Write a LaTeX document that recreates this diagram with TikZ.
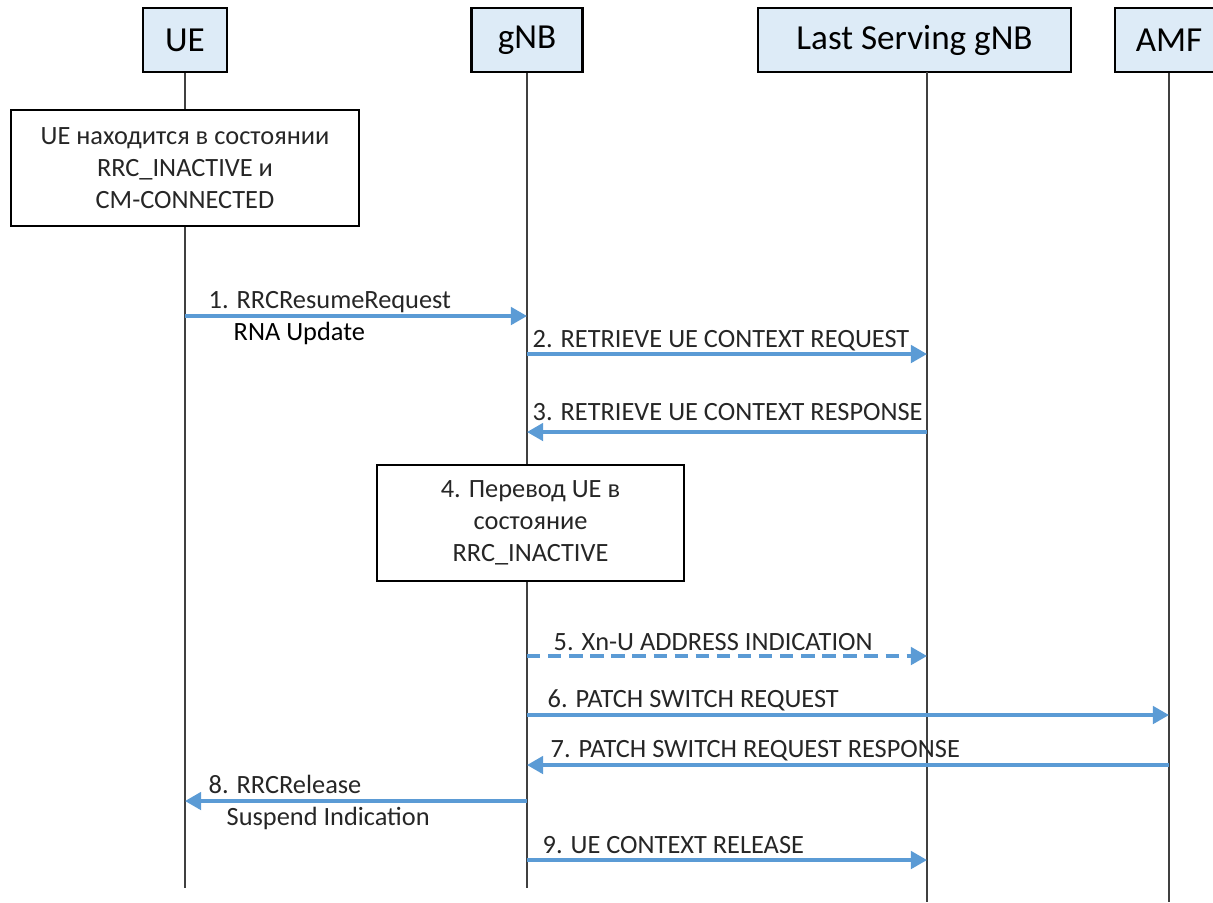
\documentclass[tikz,border=0pt]{standalone}
\usepackage{fontspec}
\setmainfont{Carlito}
\usetikzlibrary{arrows.meta}
\definecolor{sq_blue}{RGB}{221, 235, 247}
\definecolor{sq_msg}{RGB}{91, 155, 213}
\definecolor{sq_line}{RGB}{64, 64, 64}
\tikzstyle{hd}=[rectangle,fill=sq_blue,draw=black,line width=0.6pt,
  minimum height=0.64cm,inner sep=0pt,font=\fontsize{10}{12}\selectfont]
\tikzstyle{st}=[rectangle,fill=white,draw=black,line width=0.6pt,
  minimum width=3.48cm,minimum height=1.16cm,inner sep=0pt,align=center,
  text=black!85,font=\fontsize{7.5}{9.1}\selectfont]
\tikzstyle{ll}=[draw=sq_line,line width=0.5pt]
\tikzstyle{msg}=[draw=sq_msg,line width=0.95pt,
  -{Triangle[length=4.6pt,width=5pt]}]
\tikzstyle{lbl}=[anchor=base west,inner sep=0pt,text=black!85,
  font=\fontsize{7.5}{9}\selectfont]

\begin{document}
\begin{tikzpicture}
    \path [use as bounding box] (0,0) rectangle (12.13,-9.02);
    \clip (0,0) rectangle (12.13,-9.02);
    % header boxes
    \node [style=hd, minimum width=0.84cm] (ue) at (1.85,-0.40) {UE};
    \node [style=hd, minimum width=1.11cm] (gnb) at (5.27,-0.40) {gNB};
    \node [style=hd, minimum width=3.13cm] (lsg) at (9.145,-0.40) {Last Serving gNB};
    \node [style=hd, minimum width=1.08cm] (amf) at (11.69,-0.40) {AMF};
    % lifelines
    \coordinate (ueend) at (1.85,-8.88);
    \coordinate (gnbend) at (5.27,-8.88);
    \coordinate (lsgtop) at (9.27,-0.72);
    \coordinate (lsgend) at (9.27,-9.02);
    \coordinate (amfend) at (11.69,-9.02);
    \draw [style=ll] (ue) to (ueend);
    \draw [style=ll] (gnb) to (gnbend);
    \draw [style=ll] (lsgtop) to (lsgend);
    \draw [style=ll] (amf) to (amfend);
    % state boxes
    \node [style=st] (s0) at (1.85,-1.68) {UE находится в состоянии\\RRC\_INACTIVE и\\CM-CONNECTED};
    \node [style=st, minimum width=3.07cm] (s4) at (5.305,-5.23) {4. Перевод UE в\\состояние\\RRC\_INACTIVE};
    % 1
    \coordinate (m1a) at (1.85,-3.16);
    \coordinate (m1b) at (5.27,-3.16);
    \draw [style=msg] (m1a) to (m1b);
    \node [style=lbl] (l1) at (2.08,-3.08) {1. RRCResumeRequest};
    \node [style=lbl, text=black] (l1b) at (2.33,-3.40) {RNA Update};
    % 2
    \coordinate (m2a) at (5.27,-3.54);
    \coordinate (m2b) at (9.27,-3.54);
    \draw [style=msg] (m2a) to (m2b);
    \node [style=lbl] (l2) at (5.32,-3.47) {2. RETRIEVE UE CONTEXT REQUEST};
    % 3
    \coordinate (m3a) at (9.27,-4.32);
    \coordinate (m3b) at (5.27,-4.32);
    \draw [style=msg] (m3a) to (m3b);
    \node [style=lbl] (l3) at (5.32,-4.20) {3. RETRIEVE UE CONTEXT RESPONSE};
    % 5
    \coordinate (m5a) at (5.27,-6.56);
    \coordinate (m5b) at (9.27,-6.56);
    \draw [style=msg, dash pattern=on 3.8pt off 2.2pt] (m5a) to (m5b);
    \node [style=lbl] (l5) at (5.53,-6.50) {5. Xn-U ADDRESS INDICATION};
    % 6
    \coordinate (m6a) at (5.27,-7.15);
    \coordinate (m6b) at (11.69,-7.15);
    \draw [style=msg] (m6a) to (m6b);
    \node [style=lbl] (l6) at (5.47,-7.07) {6. PATCH SWITCH REQUEST};
    % 7
    \coordinate (m7a) at (11.69,-7.65);
    \coordinate (m7b) at (5.27,-7.65);
    \draw [style=msg] (m7a) to (m7b);
    \node [style=lbl] (l7) at (5.50,-7.57) {7. PATCH SWITCH REQUEST RESPONSE};
    % 8
    \coordinate (m8a) at (5.27,-8.01);
    \coordinate (m8b) at (1.85,-8.01);
    \draw [style=msg] (m8a) to (m8b);
    \node [style=lbl] (l8) at (2.08,-7.93) {8. RRCRelease};
    \node [style=lbl] (l8b) at (2.26,-8.25) {Suspend Indication};
    % 9
    \coordinate (m9a) at (5.27,-8.60);
    \coordinate (m9b) at (9.27,-8.60);
    \draw [style=msg] (m9a) to (m9b);
    \node [style=lbl] (l9) at (5.42,-8.53) {9. UE CONTEXT RELEASE};
\end{tikzpicture}
\end{document}
